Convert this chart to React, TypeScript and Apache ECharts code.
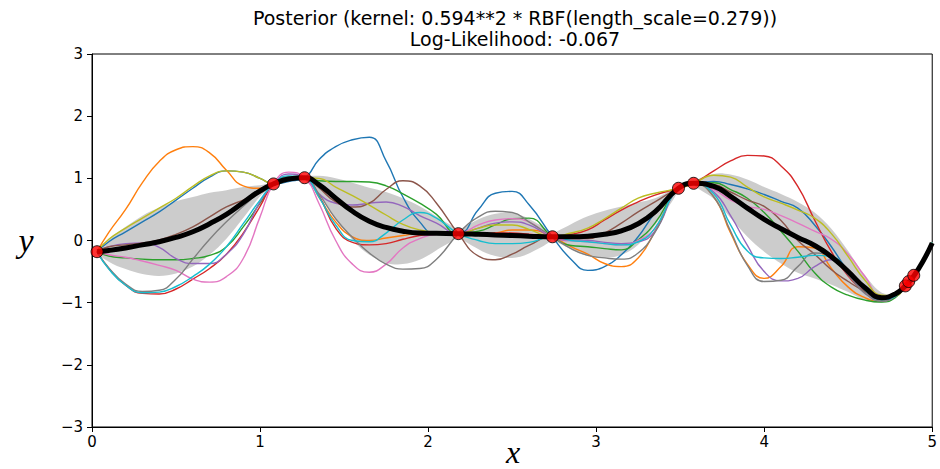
import React, { useEffect, useRef } from "react";
import * as echarts from "echarts";

const X = [0.03, 0.1, 0.2, 0.3, 0.4, 0.5, 0.6, 0.7, 0.8, 0.9, 1.0, 1.08, 1.17, 1.265, 1.35, 1.45, 1.55, 1.65, 1.75, 1.85, 1.95, 2.05, 2.18, 2.3, 2.4, 2.5, 2.6, 2.74, 2.85, 2.95, 3.05, 3.15, 3.25, 3.35, 3.49, 3.58, 3.7, 3.8, 3.9, 4.0, 4.1, 4.2, 4.3, 4.4, 4.5, 4.6, 4.7, 4.78, 4.84, 4.89, 4.95, 5.0];

const MEAN = [-0.18, -0.16, -0.12, -0.07, -0.02, 0.05, 0.14, 0.27, 0.42, 0.61, 0.80, 0.91, 0.99, 1.01, 0.90, 0.68, 0.47, 0.31, 0.21, 0.15, 0.12, 0.115, 0.11, 0.10, 0.09, 0.08, 0.07, 0.06, 0.06, 0.07, 0.10, 0.155, 0.27, 0.46, 0.84, 0.92, 0.87, 0.71, 0.52, 0.34, 0.19, 0.05, -0.08, -0.26, -0.50, -0.76, -0.92, -0.86, -0.73, -0.57, -0.31, -0.04];
const STD = [0, 0.18, 0.34, 0.47, 0.55, 0.58, 0.56, 0.50, 0.39, 0.25, 0.09, 0, 0.04, 0, 0.14, 0.32, 0.46, 0.54, 0.57, 0.53, 0.43, 0.27, 0, 0.24, 0.34, 0.36, 0.28, 0, 0.2, 0.32, 0.38, 0.39, 0.34, 0.22, 0, 0, 0.2, 0.35, 0.46, 0.52, 0.56, 0.57, 0.53, 0.45, 0.33, 0.2, 0.08, 0.02, 0, 0, 0.01, 0.03];

const S_BLUE = [-0.18, -0.02, 0.14, 0.30, 0.46, 0.65, 0.84, 1.02, 1.12, 1.10, 1.00, 0.91, 0.95, 1.01, 1.30, 1.51, 1.62, 1.66, 1.28, 0.70, 0.30, 0.10, 0.11, 0.50, 0.76, 0.79, 0.58, 0.06, -0.30, -0.48, -0.42, -0.23, 0.06, 0.44, 0.84, 0.92, 0.95, 0.90, 0.83, 0.74, 0.63, 0.52, 0.25, -0.10, -0.50, -0.80, -0.95, -0.88, -0.73, -0.57, -0.30, -0.03];
const S_ORANGE = [-0.18, 0.13, 0.50, 0.93, 1.27, 1.46, 1.51, 1.41, 1.13, 0.88, 0.84, 0.91, 0.99, 1.01, 0.70, 0.30, 0.06, 0.00, 0.04, 0.08, 0.12, 0.13, 0.11, 0.10, 0.12, 0.17, 0.17, 0.06, -0.10, -0.22, -0.37, -0.42, -0.28, 0.15, 0.84, 0.92, 0.70, 0.12, -0.38, -0.61, -0.42, -0.10, -0.12, -0.45, -0.75, -0.92, -0.98, -0.88, -0.73, -0.57, -0.30, -0.03];
const S_GREEN = [-0.18, -0.25, -0.28, -0.30, -0.31, -0.31, -0.29, -0.24, -0.10, 0.22, 0.60, 0.91, 1.00, 1.01, 0.96, 0.95, 0.95, 0.94, 0.88, 0.75, 0.60, 0.42, 0.11, 0.15, 0.25, 0.35, 0.36, 0.06, -0.08, -0.10, -0.13, -0.15, 0.01, 0.28, 0.84, 0.92, 0.93, 0.82, 0.68, 0.45, 0.15, -0.17, -0.52, -0.75, -0.88, -0.96, -0.99, -0.92, -0.73, -0.57, -0.31, -0.04];
const S_RED = [-0.18, -0.45, -0.72, -0.85, -0.86, -0.78, -0.62, -0.45, -0.22, 0.12, 0.55, 0.91, 1.02, 1.01, 0.72, 0.20, -0.03, -0.07, -0.05, 0.02, 0.08, 0.12, 0.11, 0.10, 0.12, 0.12, 0.10, 0.06, 0.10, 0.17, 0.33, 0.49, 0.62, 0.73, 0.84, 0.92, 1.12, 1.28, 1.37, 1.36, 1.20, 0.87, 0.33, -0.18, -0.57, -0.82, -0.95, -0.90, -0.73, -0.57, -0.30, -0.03];
const S_PURPLE = [-0.18, -0.10, -0.05, -0.04, -0.11, -0.29, -0.37, -0.37, -0.22, 0.10, 0.62, 0.91, 1.07, 1.01, 0.75, 0.60, 0.57, 0.60, 0.62, 0.55, 0.40, 0.28, 0.11, 0.20, 0.28, 0.30, 0.25, 0.06, 0.00, 0.00, -0.03, -0.05, -0.02, 0.15, 0.84, 0.92, 0.78, 0.40, -0.08, -0.50, -0.65, -0.61, -0.42, -0.31, -0.55, -0.85, -0.97, -0.90, -0.73, -0.57, -0.30, -0.03];
const S_BROWN = [-0.18, -0.10, -0.07, -0.04, 0.01, 0.10, 0.22, 0.38, 0.54, 0.65, 0.76, 0.91, 1.00, 1.01, 0.85, 0.62, 0.54, 0.60, 0.82, 0.96, 0.88, 0.60, 0.11, -0.25, -0.31, -0.22, -0.08, 0.06, 0.03, 0.03, 0.12, 0.28, 0.46, 0.62, 0.84, 0.92, 0.90, 0.78, 0.65, 0.55, 0.32, 0.00, -0.22, -0.47, -0.66, -0.82, -0.94, -0.89, -0.73, -0.57, -0.30, -0.03];
const S_PINK = [-0.18, -0.23, -0.27, -0.33, -0.40, -0.48, -0.62, -0.67, -0.58, -0.29, 0.38, 0.91, 1.10, 1.01, 0.60, 0.00, -0.38, -0.51, -0.38, -0.12, 0.03, 0.10, 0.11, 0.25, 0.33, 0.35, 0.30, 0.06, 0.00, -0.02, -0.05, -0.07, 0.00, 0.20, 0.84, 0.92, 0.82, 0.65, 0.55, 0.50, 0.40, 0.28, 0.15, 0.02, -0.22, -0.58, -0.90, -0.88, -0.73, -0.57, -0.30, -0.03];
const S_GRAY = [-0.18, -0.44, -0.70, -0.82, -0.80, -0.62, -0.30, 0.02, 0.30, 0.55, 0.78, 0.91, 1.03, 1.01, 0.75, 0.35, 0.05, -0.20, -0.38, -0.46, -0.45, -0.30, 0.11, 0.38, 0.47, 0.45, 0.30, 0.06, -0.13, -0.24, -0.28, -0.30, -0.20, 0.13, 0.84, 0.92, 0.70, 0.15, -0.40, -0.66, -0.64, -0.42, -0.20, -0.25, -0.55, -0.85, -0.97, -0.90, -0.73, -0.57, -0.30, -0.03];
const S_OLIVE = [-0.18, 0.02, 0.20, 0.36, 0.52, 0.68, 0.87, 1.04, 1.12, 1.10, 1.00, 0.91, 0.97, 1.01, 1.00, 0.86, 0.72, 0.57, 0.41, 0.26, 0.17, 0.13, 0.11, 0.20, 0.25, 0.25, 0.18, 0.06, 0.12, 0.20, 0.35, 0.52, 0.68, 0.76, 0.84, 0.92, 1.05, 1.02, 0.86, 0.70, 0.60, 0.49, 0.36, 0.11, -0.26, -0.64, -0.88, -0.89, -0.73, -0.57, -0.30, -0.03];
const S_CYAN = [-0.18, -0.46, -0.72, -0.84, -0.83, -0.74, -0.58, -0.38, -0.10, 0.27, 0.65, 0.91, 1.04, 1.01, 0.70, 0.25, 0.00, -0.02, 0.12, 0.33, 0.45, 0.36, 0.11, 0.00, -0.05, -0.05, -0.03, 0.06, 0.00, -0.02, -0.05, -0.07, -0.02, 0.20, 0.84, 0.92, 0.75, 0.25, -0.17, -0.28, -0.29, -0.27, -0.24, -0.26, -0.50, -0.80, -0.95, -0.90, -0.73, -0.57, -0.30, -0.03];

const SAMPLES = [S_BLUE, S_ORANGE, S_GREEN, S_RED, S_PURPLE, S_BROWN, S_PINK, S_GRAY, S_OLIVE, S_CYAN];
const SAMPLE_COLORS = ["#1f77b4", "#ff7f0e", "#2ca02c", "#d62728", "#9467bd", "#8c564b", "#e377c2", "#7f7f7f", "#bcbd22", "#17becf"];

const OBS_X = [0.03, 1.08, 1.265, 2.18, 2.74, 3.49, 3.58, 4.84, 4.86, 4.89];
const OBS_Y = [-0.18, 0.91, 1.01, 0.11, 0.06, 0.84, 0.92, -0.73, -0.66, -0.56];

const TITLE_1 = "Posterior (kernel: 0.594**2 * RBF(length_scale=0.279))";
const TITLE_2 = "Log-Likelihood: -0.067";

export default function App() {
  const ref = useRef<HTMLDivElement>(null);

  useEffect(() => {
    if (!ref.current) return;
    const chart = echarts.init(ref.current, undefined, { renderer: "svg" });

    const pairs = (ys: number[]) => X.map((x, i) => [x, ys[i]]);

    // lens-shaped pieces of the confidence band, between points where the std is zero
    const pieces: [number, number][] = [];
    let start = 0;
    for (let i = 1; i < X.length; i++) {
      if (STD[i] === 0 || i === X.length - 1) {
        if (i - start > 1) pieces.push([start, i]);
        start = i;
      }
    }
    const pieceStarts = new Set(pieces.map((p) => p[0]));

    const sampleSeries = SAMPLES.map((s, k) => ({
      type: "line",
      data: pairs(s),
      smooth: 0.5,
      showSymbol: false,
      symbol: "none",
      lineStyle: { color: SAMPLE_COLORS[k], width: 1.4 },
      z: 3,
      silent: true,
    }));

    const font = "DejaVu Sans";
    const option: any = {
      animation: false,
      grid: {
        left: 92,
        right: 3,
        top: 54,
        bottom: 42,
        show: true,
        borderColor: "#000",
        borderWidth: 1,
        backgroundColor: "transparent",
      },
      xAxis: {
        type: "value",
        min: 0,
        max: 5,
        interval: 1,
        axisLine: { show: true, onZero: false, lineStyle: { color: "#000", width: 1 } },
        axisTick: { show: true, length: 5, lineStyle: { color: "#000", width: 1 } },
        axisLabel: { color: "#000", fontFamily: font, fontSize: 15, margin: 7 },
        splitLine: { show: false },
      },
      yAxis: {
        type: "value",
        min: -3,
        max: 3,
        interval: 1,
        axisLine: { show: true, onZero: false, lineStyle: { color: "#000", width: 1 } },
        axisTick: { show: true, length: 5, lineStyle: { color: "#000", width: 1 } },
        axisLabel: {
          color: "#000",
          fontFamily: font,
          fontSize: 15,
          margin: 9,
          formatter: (v: number) => (v < 0 ? "\u2212" + Math.abs(v) : String(v)),
        },
        splitLine: { show: false },
      },
      graphic: [
        {
          type: "text",
          x: 515,
          y: 18,
          style: { text: TITLE_1, fill: "#000", font: `19px "${font}"`, textAlign: "center", textVerticalAlign: "middle" },
        },
        {
          type: "text",
          x: 515,
          y: 39,
          style: { text: TITLE_2, fill: "#000", font: `19px "${font}"`, textAlign: "center", textVerticalAlign: "middle" },
        },
        {
          type: "text",
          x: 26,
          y: 240,
          style: { text: "y", fill: "#000", font: `italic 34px "Liberation Serif"`, textAlign: "center", textVerticalAlign: "middle" },
        },
        {
          type: "text",
          x: 513,
          y: 452,
          style: { text: "x", fill: "#000", font: `italic 32px "Liberation Serif"`, textAlign: "center", textVerticalAlign: "middle" },
        },
      ],
      series: [
        {
          type: "custom",
          data: X.map((x, i) => [x, MEAN[i] - STD[i], MEAN[i] + STD[i]]),
          encode: { x: 0, y: [1, 2] },
          z: 1,
          silent: true,
          renderItem: (params: any, api: any) => {
            const idx = params.dataIndex;
            if (!pieceStarts.has(idx)) return null;
            const piece = pieces.find((p) => p[0] === idx)!;
            const [a, b] = piece;
            const pts: number[][] = [];
            for (let i = a; i <= b; i++) pts.push(api.coord([X[i], MEAN[i] + STD[i]]));
            for (let i = b; i >= a; i--) {
              if ((i === a || i === b) && STD[i] === 0) continue;
              pts.push(api.coord([X[i], MEAN[i] - STD[i]]));
            }
            return {
              type: "polygon",
              shape: { points: pts, smooth: 0.35 },
              style: { fill: "rgba(0,0,0,0.2)", stroke: "none" },
            };
          },
        },
        ...sampleSeries,
        {
          type: "line",
          data: pairs(MEAN),
          smooth: 0.5,
          symbol: "none",
          showSymbol: false,
          lineStyle: { color: "#000", width: 5 },
          z: 4,
          silent: true,
        },
        {
          type: "scatter",
          data: OBS_X.map((x, i) => [x, OBS_Y[i]]),
          symbolSize: 12,
          itemStyle: { color: "#ff0000", borderColor: "#000", borderWidth: 1 },
          z: 5,
          silent: true,
        },
      ],
    };

    chart.setOption(option);
    return () => chart.dispose();
  }, []);

  return (
    <div
      ref={ref}
      style={{ position: "fixed", left: 0, top: 0, width: 940, height: 469, background: "#fff" }}
    />
  );
}
